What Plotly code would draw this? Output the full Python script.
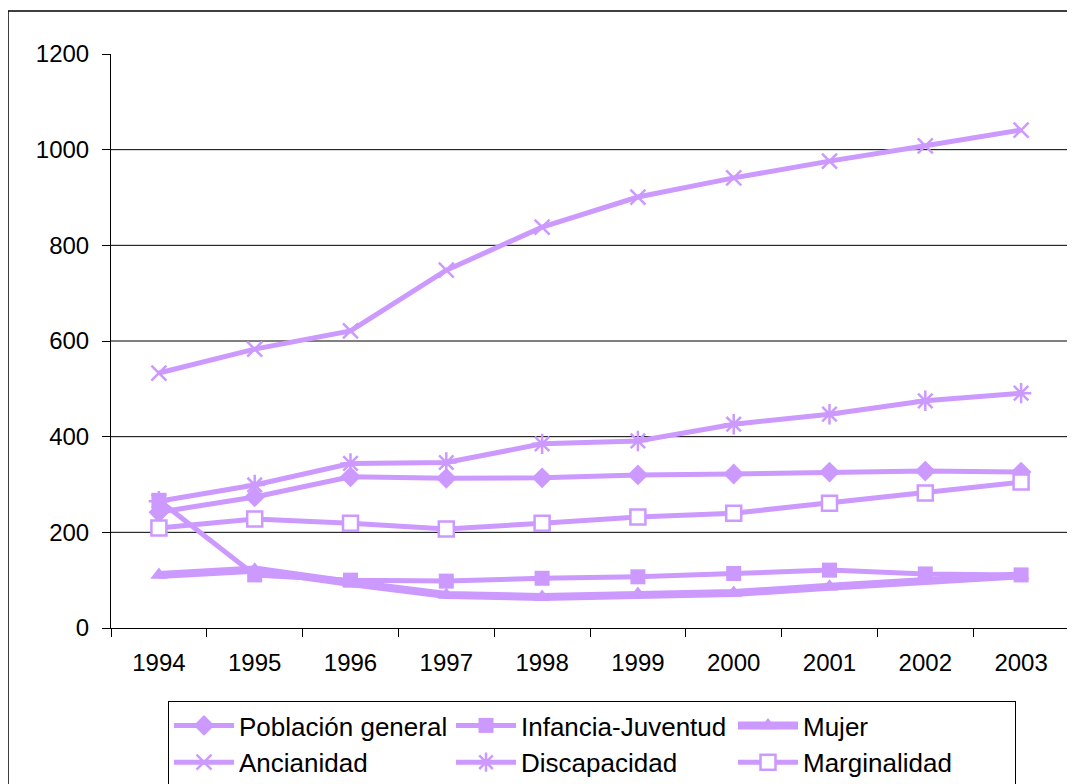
import plotly.graph_objects as go

years = ["1994", "1995", "1996", "1997", "1998", "1999", "2000", "2001", "2002", "2003"]
poblacion_general = [242, 274, 316, 313, 314, 320, 322, 326, 328, 326]
infancia_juventud = [267, 111, 100, 98, 104, 107, 114, 121, 113, 111]
mujer = [111, 122, 94, 69, 65, 71, 73, 86, 100, 110]
ancianidad = [533, 583, 621, 748, 838, 901, 941, 976, 1008, 1041]
discapacidad = [265, 299, 344, 346, 385, 391, 426, 447, 475, 491]
marginalidad = [209, 228, 219, 207, 219, 232, 240, 261, 282, 305]
grid_values = [200, 400, 600, 800, 1000]
y_ticks = [0, 200, 400, 600, 800, 1000, 1200]

C = "#CC99FF"
FONT = "Liberation Sans"
W, H = 1067, 776  # page body adds 8px offset

fig = go.Figure()

def add(name, vals, symbol, size, width=5, mline=0, fill=C, mcolor=C):
    fig.add_trace(go.Scatter(
        x=years, y=vals, name=name, mode="lines+markers",
        line=dict(color=C, width=width),
        marker=dict(symbol=symbol, size=size, color=fill,
                    line=dict(color=mcolor, width=mline)),
    ))

add("Población general", poblacion_general, "diamond", 16)
add("Infancia-Juventud", infancia_juventud, "square", 15)
add("Mujer", mujer, "triangle-up", 15, width=8)
add("Ancianidad", ancianidad, "x-thin", 15, mline=2.5)
add("Discapacidad", discapacidad, "asterisk", 17, mline=2.5)
add("Marginalidad", marginalidad, "square", 15, mline=2.5, fill="white")

shapes = []
for g in grid_values:
    shapes.append(dict(type="line", xref="paper", yref="y", x0=0, x1=1, y0=g, y1=g,
                       line=dict(color="black", width=1), layer="below"))
# outer chart frame
shapes.append(dict(type="rect", xref="paper", yref="paper",
                   x0=-103 / 958, x1=1.2, y0=(620 - 3) / 574, y1=-0.6,
                   line=dict(color="black", width=1.5), layer="below"))
fig.update_layout(shapes=shapes)

fig.update_layout(
    width=W, height=H,
    margin=dict(l=103, r=6, t=46, b=156, autoexpand=False),
    paper_bgcolor="white", plot_bgcolor="white",
    font=dict(family=FONT, size=24, color="black"),
    showlegend=True,
    legend=dict(
        orientation="h", xref="container", yref="container",
        x=160 / W, xanchor="left",
        y=1 - 693 / H, yanchor="top",
        bordercolor="black", borderwidth=1, bgcolor="white",
        entrywidth=207, entrywidthmode="pixels",
        font=dict(family=FONT, size=26, color="black"),
        itemwidth=60,
    ),
)

fig.update_xaxes(
    type="category", range=[-0.5, len(years) - 0.5], tickson="boundaries",
    showline=True, linecolor="black", linewidth=1,
    ticks="outside", ticklen=8, tickcolor="black", showgrid=False, automargin=False,
    tickfont=dict(family=FONT, size=24), ticklabelstandoff=13,
)
fig.update_yaxes(
    range=[0, 1200], tickvals=y_ticks, showline=True, linecolor="black", linewidth=1,
    ticks="outside", ticklen=8, tickcolor="black", showgrid=False, zeroline=False,
    automargin=False, tickfont=dict(family=FONT, size=24), ticklabelstandoff=8,
)

fig.write_html("out.html")
